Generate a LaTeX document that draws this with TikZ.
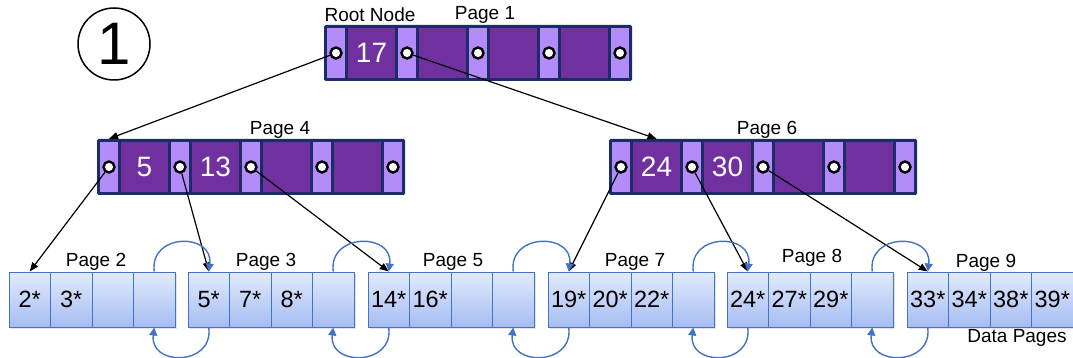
\documentclass[tikz,border=0pt]{standalone}
\usepackage{fontspec}
\setmainfont{Liberation Sans}
\usetikzlibrary{arrows.meta,shadows}

\definecolor{navy}{HTML}{1B2C66}
\definecolor{keypurple}{HTML}{7030A0}
\definecolor{ptrlilac}{HTML}{B48CFA}
\definecolor{leafedge}{HTML}{4472C4}
\definecolor{leaftop}{HTML}{E2EAFC}
\definecolor{leafbot}{HTML}{A6BDF3}

\tikzset{
  frame/.style={fill=navy, rounded corners=1.5pt, minimum width=308pt, minimum height=56pt, inner sep=0pt},
  ptrcell/.style={fill=ptrlilac, minimum width=18pt, minimum height=50pt, inner sep=0pt},
  keycell/.style={fill=keypurple, minimum width=47pt, minimum height=50pt, inner sep=0pt,
                  text=white, font=\fontsize{28}{30}\selectfont},
  dot/.style={circle, draw=black, fill=white, line width=2.4pt, minimum size=11pt, inner sep=0pt},
  leafcell/.style={draw=leafedge, line width=1pt, top color=leaftop, bottom color=leafbot,
                   minimum width=41.5pt, minimum height=55pt, inner sep=0pt,
                   font=\fontsize{23.5}{25}\selectfont,
                   drop shadow={opacity=0.22, shadow xshift=1.5pt, shadow yshift=-1.5pt}},
  label/.style={font=\fontsize{19}{21}\selectfont, inner sep=0pt},
  ptrarrow/.style={draw=black, line width=1.2pt, -{Triangle[length=9pt,width=7pt]}},
  link/.style={draw=leafedge, line width=1.4pt, -{Triangle[length=8pt,width=8pt]}}
}

% index page: name, left x, top y, first key, second key
\newcommand\innerpage[5]{%
  \node[frame] (#1) at (#2+154,#3+28) {};
  \foreach \i in {0,...,4}{
    \node[ptrcell] (#1p\i) at (#2+12+\i*71,#3+28) {};
    \node[dot] (#1c\i) at (#1p\i) {};
  }
  \node[keycell] (#1k0) at (#2+47.5,#3+28) {#4};
  \node[keycell] (#1k1) at (#2+118.5,#3+28) {#5};
  \node[keycell] (#1k2) at (#2+189.5,#3+28) {};
  \node[keycell] (#1k3) at (#2+260.5,#3+28) {};
}

% data page: name, left x, four entries
\newcommand\leafpage[6]{%
  \node[leafcell] (#1c1) at (#2+20.75,299.5) {#3};
  \node[leafcell] (#1c2) at (#2+62.25,299.5) {#4};
  \node[leafcell] (#1c3) at (#2+103.75,299.5) {#5};
  \node[leafcell] (#1c4) at (#2+145.25,299.5) {#6};
}

\begin{document}
\begin{tikzpicture}[x=1pt,y=-1pt]
  \useasboundingbox (0,0) rectangle (1073,358);

  % step number
  \node[circle, draw=black, line width=1.5pt, minimum size=72pt, inner sep=0pt,
        font=\fontsize{60}{62}\selectfont] (step) at (114,44) {1};

  % index levels
  \innerpage{root}{324}{25}{17}{}
  \innerpage{pgfour}{97}{139}{5}{13}
  \innerpage{pgsix}{609}{139}{24}{30}

  \node[label] (rootlbl) at (370,15) {Root Node};
  \node[label] (pone) at (485,15) {Page 1};
  \node[label] (pfour) at (280,130) {Page 4};
  \node[label] (psix) at (767,130) {Page 6};

  % data level
  \leafpage{pgtwo}{9}{2*}{3*}{}{}
  \leafpage{pgthree}{188}{5*}{7*}{8*}{}
  \leafpage{pgfive}{368}{14*}{16*}{}{}
  \leafpage{pgseven}{548}{19*}{20*}{22*}{}
  \leafpage{pgeight}{727}{24*}{27*}{29*}{}
  \leafpage{pgnine}{907}{33*}{34*}{38*}{39*}

  \node[label] (ptwo) at (96,262) {Page 2};
  \node[label] (pthree) at (266,262) {Page 3};
  \node[label] (pfive) at (453,262) {Page 5};
  \node[label] (pseven) at (635,262) {Page 7};
  \node[label] (peight) at (812,258) {Page 8};
  \node[label] (pnine) at (986,263) {Page 9};
  \node[label] (data) at (1017,338) {Data Pages};

  % child pointers
  \draw[ptrarrow] (rootc0) -- (pgfourp0 |- pgfour.north);
  \draw[ptrarrow] (rootc1) -- (pgsixk0 |- pgsix.north);
  \draw[ptrarrow] (pgfourc0) -- (pgtwoc1.north);
  \draw[ptrarrow] (pgfourc1) -- (pgthreec1.north);
  \draw[ptrarrow] (pgfourc2) -- (pgfivec1.north);
  \draw[ptrarrow] (pgsixc0) -- (pgsevenc1.north);
  \draw[ptrarrow] (pgsixc1) -- (pgeightc1.north);
  \draw[ptrarrow] (pgsixc2) -- (pgninec1.north);

  % sibling links between data pages
  \foreach \a/\b in {pgtwo/pgthree, pgthree/pgfive, pgfive/pgseven, pgseven/pgeight, pgeight/pgnine}{
    \draw[link] (\a c4.north) .. controls +(-5,-39) and +(5,-39) .. (\b c1.north);
    \draw[link] (\b c1.south) .. controls +(5,39) and +(-5,39) .. (\a c4.south);
  }
\end{tikzpicture}
\end{document}
